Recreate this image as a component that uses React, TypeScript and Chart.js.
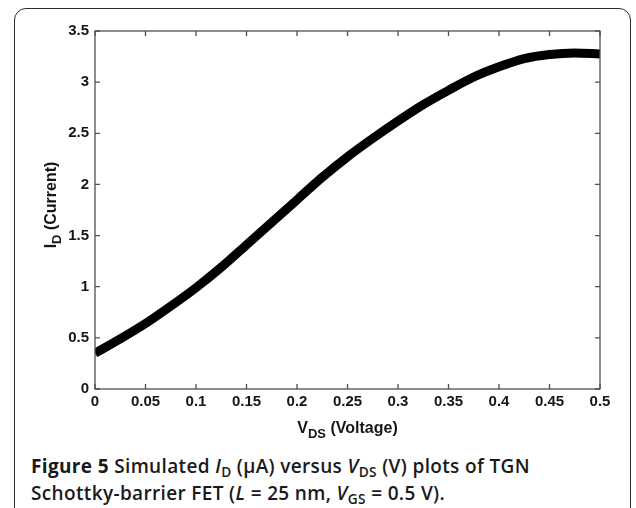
import React, { useEffect, useRef } from "react";
import { Chart, registerables } from "chart.js";

Chart.register(...registerables);

// V_DS (V) sample positions and I_D values
const vds = [0, 0.025, 0.05, 0.075, 0.1, 0.125, 0.15, 0.175, 0.2, 0.225, 0.25, 0.275, 0.3, 0.325, 0.35, 0.375, 0.4, 0.425, 0.45, 0.475, 0.5];
const idCurrent = [0.35, 0.49, 0.64, 0.81, 0.99, 1.19, 1.41, 1.63, 1.85, 2.07, 2.27, 2.45, 2.62, 2.78, 2.92, 3.05, 3.15, 3.23, 3.27, 3.285, 3.275];

const xTicks = [0, 0.05, 0.1, 0.15, 0.2, 0.25, 0.3, 0.35, 0.4, 0.45, 0.5];
const xTickLabels = ["0", "0.05", "0.1", "0.15", "0.2", "0.25", "0.3", "0.35", "0.4", "0.45", "0.5"];
const yTicks = [0, 0.5, 1, 1.5, 2, 2.5, 3, 3.5];
const yTickLabels = ["0", "0.5", "1", "1.5", "2", "2.5", "3", "3.5"];

const FONT = "'Liberation Sans', Arial, sans-serif";
const TEXT = "#161616";

type Part = { text: string; size: number; dy: number };

function drawParts(ctx: CanvasRenderingContext2D, parts: Part[], cx: number, baseline: number) {
  let w = 0;
  for (const p of parts) {
    ctx.font = `bold ${p.size}px ${FONT}`;
    w += ctx.measureText(p.text).width;
  }
  let x = cx - w / 2;
  ctx.textAlign = "left";
  ctx.textBaseline = "alphabetic";
  ctx.fillStyle = TEXT;
  for (const p of parts) {
    ctx.font = `bold ${p.size}px ${FONT}`;
    ctx.fillText(p.text, x, baseline + p.dy);
    x += ctx.measureText(p.text).width;
  }
}

export default function App() {
  const ref = useRef<HTMLCanvasElement>(null);

  useEffect(() => {
    const canvas = ref.current;
    if (!canvas) return;

    const boxPlugin = {
      id: "matlabBox",
      afterDraw(chart: any) {
        const { ctx, chartArea: a, scales } = chart;
        ctx.save();
        ctx.strokeStyle = "#505050";
        ctx.lineWidth = 1.3;
        ctx.strokeRect(a.left, a.top, a.right - a.left, a.bottom - a.top);
        const tl = 5;
        ctx.beginPath();
        for (const v of xTicks) {
          const px = scales.x.getPixelForValue(v);
          ctx.moveTo(px, a.bottom);
          ctx.lineTo(px, a.bottom - tl);
          ctx.moveTo(px, a.top);
          ctx.lineTo(px, a.top + tl);
        }
        for (const v of yTicks) {
          const py = scales.y.getPixelForValue(v);
          ctx.moveTo(a.left, py);
          ctx.lineTo(a.left + tl, py);
          ctx.moveTo(a.right, py);
          ctx.lineTo(a.right - tl, py);
        }
        ctx.stroke();

        // x axis title: V_DS (Voltage)
        drawParts(
          ctx,
          [
            { text: "V", size: 16, dy: 0 },
            { text: "DS", size: 13, dy: 5 },
            { text: " (Voltage)", size: 16, dy: 0 },
          ],
          (a.left + a.right) / 2,
          422.5
        );

        // y axis title: I_D (Current), rotated
        ctx.translate(46, 195);
        ctx.rotate(-Math.PI / 2);
        drawParts(
          ctx,
          [
            { text: "I", size: 16, dy: 0 },
            { text: "D", size: 13, dy: 5 },
            { text: " (Current)", size: 16, dy: 0 },
          ],
          0,
          0
        );
        ctx.restore();
      },
    };

    const chart = new Chart(canvas, {
      type: "line",
      data: {
        datasets: [
          {
            data: vds.map((x, i) => ({ x, y: idCurrent[i] })),
            borderColor: "#000000",
            backgroundColor: "#000000",
            borderWidth: 9,
            pointRadius: 0,
            fill: false,
            cubicInterpolationMode: "monotone",
            borderCapStyle: "butt",
            clip: 0,
          } as any,
        ],
      },
      options: {
        animation: false,
        responsive: false,
        devicePixelRatio: 1,
        layout: { padding: { left: 0, top: 21, right: 20, bottom: 0 } },
        plugins: { legend: { display: false }, tooltip: { enabled: false } },
        scales: {
          x: {
            type: "linear",
            min: 0,
            max: 0.5,
            grid: { display: false, drawTicks: false },
            border: { display: false },
            afterBuildTicks: (s: any) => {
              s.ticks = xTicks.map((v) => ({ value: v }));
            },
            afterFit: (s: any) => {
              s.height = 56;
              s.paddingLeft = 0;
              s.paddingRight = 0;
            },
            ticks: {
              autoSkip: false,
              maxRotation: 0,
              padding: 4,
              color: TEXT,
              font: { family: FONT, size: 15, weight: "bold" },
              callback: (_v: any, i: number) => xTickLabels[i],
            },
          },
          y: {
            type: "linear",
            min: 0,
            max: 3.5,
            grid: { display: false, drawTicks: false },
            border: { display: false },
            afterBuildTicks: (s: any) => {
              s.ticks = yTicks.map((v) => ({ value: v }));
            },
            afterFit: (s: any) => {
              s.width = 85;
              s.paddingTop = 0;
              s.paddingBottom = 0;
            },
            ticks: {
              autoSkip: false,
              padding: 6,
              color: TEXT,
              font: { family: FONT, size: 15, weight: "bold" },
              callback: (_v: any, i: number) => yTickLabels[i],
            },
          },
        },
      },
      plugins: [boxPlugin],
    } as any);

    return () => chart.destroy();
  }, []);

  const cap: React.CSSProperties = {
    position: "absolute",
    left: 31,
    top: 453,
    width: 600,
    fontFamily: "'Open Sans', 'Noto Sans', sans-serif",
    fontSize: 19,
    letterSpacing: "0.35px",
    lineHeight: "26.5px",
    fontWeight: 600,
    color: "#1a1a1a",
    whiteSpace: "nowrap",
  };
  const sub: React.CSSProperties = {
    fontSize: "0.72em",
    position: "relative",
    top: "0.3em",
    lineHeight: 0,
    fontStyle: "normal",
  };

  return (
    <div style={{ position: "fixed", left: 0, top: 0, width: 636, height: 508, overflow: "hidden", background: "#fff" }}>
      <div
        style={{
          position: "absolute",
          left: 14,
          top: 8,
          width: 617,
          height: 560,
          border: "1.5px solid #2b2b2b",
          borderRadius: 12,
          boxSizing: "border-box",
        }}
      />
      <canvas
        ref={ref}
        width={610}
        height={435}
        style={{ position: "absolute", left: 10, top: 10, display: "block" }}
      />
      <div style={cap}>
        <div style={{ height: 26.5 }}>
          <span style={{ fontWeight: 700 }}>Figure 5</span> Simulated <i>I</i>
          <span style={sub}>D</span> (μA) versus <i>V</i>
          <span style={sub}>DS</span> (V) plots of TGN
        </div>
        <div style={{ height: 26.5 }}>
          Schottky-barrier FET (<i>L</i> = 25 nm, <i>V</i>
          <span style={sub}>GS</span> = 0.5 V).
        </div>
      </div>
    </div>
  );
}
